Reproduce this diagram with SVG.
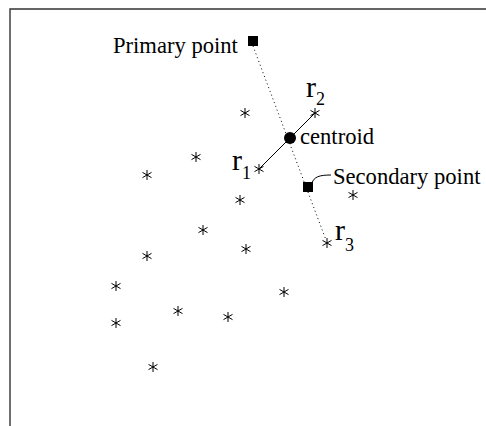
<svg xmlns="http://www.w3.org/2000/svg" width="486" height="426" viewBox="0 0 486 426">
<style>
.lbl{font-family:"Liberation Serif","Times New Roman",serif;font-size:22.6px;fill:#000}
.r{font-family:"Liberation Serif","Times New Roman",serif;font-size:30px;fill:#000}
.sub{font-size:18px}
.ast{stroke:#000;stroke-width:1;fill:none}
.dot{stroke:#000;stroke-width:1;stroke-dasharray:1 3;fill:none}
.sol{stroke:#000;stroke-width:1;fill:none}
</style>
<defs>
<path id="a" class="ast" d="M0,-5V5M-4.5,-2.6L4.5,2.6M-4.5,2.6L4.5,-2.6"/>
</defs>
<rect width="486" height="426" fill="#fff"/>
<path d="M10,426V9H486" fill="none" stroke="#333" stroke-width="1.4"/>
<g id="connectors">
<path class="dot" d="M253,46L326,240"/>
<path class="sol" d="M259,169L315,113"/>
<path class="sol" d="M312,183C314,177 319,175 331,175"/>
</g>
<g id="primary">
<rect x="248" y="36" width="10" height="10" fill="#000"/>
<text class="lbl" x="113" y="53">Primary point</text>
</g>
<g id="centroid">
<circle cx="290" cy="138" r="6" fill="#000"/>
<text class="lbl" x="300" y="144">centroid</text>
</g>
<g id="secondary">
<rect x="303" y="182" width="10" height="10" fill="#000"/>
<text class="lbl" x="333" y="184">Secondary point</text>
</g>
<g id="r1">
<use href="#a" x="259" y="169"/>
<text class="r" x="232" y="170">r<tspan class="sub" dy="9">1</tspan></text>
</g>
<g id="r2">
<use href="#a" x="315" y="113"/>
<text class="r" x="306" y="97">r<tspan class="sub" dy="8">2</tspan></text>
</g>
<g id="r3">
<use href="#a" x="327" y="243"/>
<text class="r" x="335" y="240">r<tspan class="sub" dy="11">3</tspan></text>
</g>
<g id="points">
<use href="#a" x="245" y="113"/>
<use href="#a" x="196" y="157"/>
<use href="#a" x="147" y="175"/>
<use href="#a" x="240" y="200"/>
<use href="#a" x="353" y="195"/>
<use href="#a" x="203" y="230"/>
<use href="#a" x="147" y="256"/>
<use href="#a" x="246" y="249"/>
<use href="#a" x="116" y="286"/>
<use href="#a" x="284" y="292"/>
<use href="#a" x="178" y="311"/>
<use href="#a" x="228" y="317"/>
<use href="#a" x="116" y="323"/>
<use href="#a" x="153" y="367"/>
</g>
</svg>
